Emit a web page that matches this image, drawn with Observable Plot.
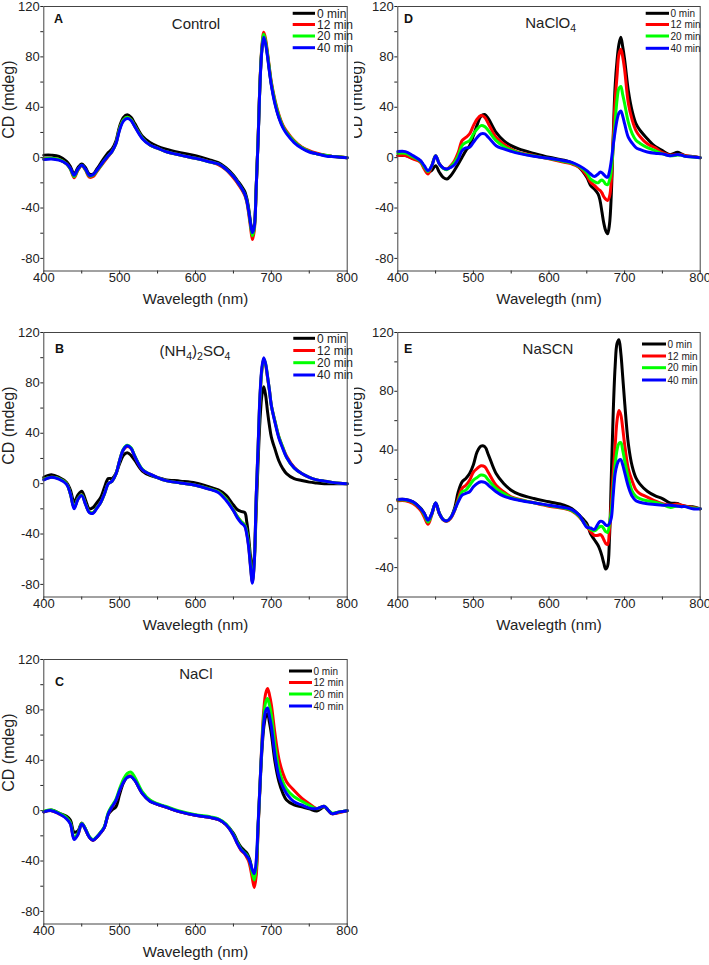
<!DOCTYPE html>
<html><head><meta charset="utf-8">
<script src="https://cdn.jsdelivr.net/npm/d3@7"></script>
<script src="https://cdn.jsdelivr.net/npm/@observablehq/plot@0.6"></script>
<style>
body{margin:0;background:#fff;}
#fig{position:relative;width:709px;height:965px;overflow:hidden;font-family:"Liberation Sans",Arial,sans-serif;}
.panel{position:absolute;}
#overlay{position:absolute;left:0;top:0;pointer-events:none;}
</style></head><body><div id="fig"></div><script>
// wavelengths (nm)
const W = [400,410,420,430,435,440,445,450,455,460,465,470,475,480,485,490,495,500,505,510,515,520,530,540,550,560,580,600,620,630,640,650,655,660,665,667.5,670,672.5,675,677.5,680,682.5,685,687.5,690,692.5,695,697.5,700,705,710,715,720,730,740,750,760,770,775,780,790,800];
const seriesNames = ["0 min","12 min","20 min","40 min"];
const seriesColors = ["#000000","#ff0000","#00ff00","#0000ff"];
const xMajor = [400,500,600,700,800];
const xMinor = [450,550,650,750];
const yMajor = [-80,-40,0,40,80,120];
const yMinor = [-60,-20,20,60,100];
const yMajorE = [-40,0,40,80,120];
const yMinorE = [-20,20,60,100];
const xTitle = "Wavelegth (nm)";
const yTitle = "CD (mdeg)";

// A: Control
const ctrl0 = [2,2,1,-3, -7,-13,-8,-5,-8,-13,-13,-9,-4.5, 0,4,7,13,25,32,34,32,27, 17,12,9,7,4,1.5, -2,-4,-8,-14,-18,-22,-27, -32,-40,-51,-59,-54,-24,14,59,86,97,91,81,69,58, 43,32,25,20,13,8, 5,3,2,1.5,1,0.5,0];
const ctrl12 = [-1,-0.5,-1.5,-5, -9,-16,-10,-6.5,-10,-15.5,-15,-11,-7, -3,1,5,11,23,30,32,30,25, 15.5,10,7.5,5,2,-0.5, -3.5,-5.5,-9.5,-16,-20,-24.5,-30, -35,-44,-55,-65,-58,-25,14,60,88,99.5,94,83,71,60, 45,34,26,21,13.5,8.5, 5.5,3.5,2,1.5,1,0.5,0];
const ctrl20 = [-1,-0.5,-1.5,-5, -9,-15,-9.5,-6,-9.5,-14.5,-14,-10.5,-6.5, -2,1.5,5,11,23,30,32,30,25, 15.5,10,7.5,5,2,-0.5, -3.5,-5,-9,-15,-19,-23.5,-29, -34,-42,-53,-62,-56,-24,14,59,87,98,92,82,70,59, 44,33,25,20,13,8, 5,3,2,1.5,1,0.5,0];
const ctrl40 = [-1.5,-1,-2,-5, -8.5,-14,-9,-6,-9,-14,-13.5,-10,-6, -2,1.5,5,11,22,29,31,29.5,24.5, 15,10,7.5,5,2,-0.5, -3.5,-5,-9,-15,-19,-23.5,-29, -34,-42,-52,-59.5,-55,-24,13,58,85,95.5,90,80,68,57.5, 42,31.5,24,19,12,7.5, 4.5,3,1.5,1,1,0.3,0];

// B: (NH4)2SO4
const amm0 = [5,7,5,1, -5,-14.5,-9,-6,-13,-20,-19,-15,-11, -3,4,4,8,16,22.5,24.5,22.5,18.5, 10,6.5,4.8,3.2,2,0.5, -3,-5,-9,-17,-20.5,-22,-23, -30,-42,-58,-69.5,-58,-22,17,50,70,77,70,57,46,37, 27,18,12,8,4,2.5, 1.2,0.5,0,0,0,0,0];
const amm12 = [3.5,5,4,0, -8,-19,-12,-9,-16,-22.5,-23,-19,-15, -8,0,2,7.5,18.5,27,29.5,28,21.5, 11,7.5,4.8,2.6,0.5,-1.3, -4.5,-6.5,-12,-21,-26,-30,-33, -39,-49,-65,-78,-62,-12,28,68,90,99,94,84,74,62, 49,37,29,22,13,8, 5,3,2,1.5,1,0.3,0];
const amm20 = [3.5,5,4,0, -8,-19,-12,-9,-16,-22.5,-23,-19,-15, -8,0,2,7.5,18.5,27.5,30.5,28.5,22, 11.5,7.5,4.8,2.6,0.5,-1.3, -4.5,-6.5,-12,-21,-26,-30,-33, -38,-48,-64,-77,-62,-12,28,68,90,99,95,85,74,62, 49,37,29,21,12.5,8, 5,3,2,1.5,1,0.3,0];
const amm40 = [3,5,3.5,-0.5, -8,-20,-12.5,-9.5,-16.5,-23,-23.5,-19.5,-15, -8,0,2,7.5,18.5,27,30,28,21.5, 11,7.5,4.8,2.6,0.5,-1.3, -4.8,-7,-13,-21.5,-27,-31,-34, -40,-50,-66,-79,-63,-10,29,70,92,100,95,85,74,62, 48,36,28,21,12.5,8, 5,3,2,1.5,1,0.3,0];

// C: NaCl
const nacl0 = [-1,0.5,-2,-4.5, -7.5,-17,-16,-10,-15,-21,-23.5,-21,-17.5, -13,-3,0.5,3,13,22,26.5,27,24, 13.5,7.5,5,3,-1,-3.7, -5.5,-7,-11,-18,-24,-29,-32, -33.5,-36.5,-41,-50,-57,-48,-14,18,47,66,74.5,77,70,61, 38,23,14,8.5,4.5,3, 1.5,-0.3,3,0,-2.4,-1,0];
const nacl12 = [-1,0,-2.5,-6, -10,-22,-19,-10,-15,-21,-23.5,-21,-17.5, -13,-2.5,3,8,16,23,27,27.5,24.5, 14,8,5,3,-1,-3.7, -5.5,-7,-11,-19.5,-26,-31.5,-34.5, -37,-40,-46,-54,-61,-52,-14,20,54,80,93,97,92,84, 60,41,30,23,16,10, 5.5,1.6,3.4,0.3,-2.4,-1.5,0];
const nacl20 = [-0.5,0.5,-2,-5.5, -9.5,-21,-18,-10,-14.5,-20.5,-23,-20.5,-17, -12.5,-1.5,4,9,17.5,25,29.5,30.5,26.5, 15,8.5,5.5,3.5,-0.5,-3.2, -5,-6.5,-10.5,-19,-25,-30.5,-33.5, -35,-38,-42,-50,-55,-45,-12,20,52,75,86,89,84,76, 51,33,23,17,11,7.5, 4.2,1.6,3.4,0.5,-2,-1,0];
const nacl40 = [-1,0,-2.5,-6.5, -10.5,-23,-19,-10.5,-15,-21,-23.5,-21,-17.5, -13,-2.5,3,8,16,22.5,26.5,27,24, 13.5,7.5,5,3,-1,-3.7, -5.5,-7,-11,-19.5,-26,-31,-34, -36,-38,-42,-47,-50,-40,-11,20,50,70,79,81.5,75,67, 43,27,19,13.5,7,4.5, 2,1.6,3.4,0.3,-2.4,-1,0];

// D: NaClO4
const clo0 = [1.6,1.6,-0.5,-2.5, -8,-11.6,-10,-6.4,-11.6,-15.6,-17,-14.3,-10, -5,0.3,5.6,9.5,17.5,26,33,34.2,30.7, 20,13.5,9.5,6.9,3.4,0.3, -2,-4,-7.7,-15.6,-22,-25,-29, -34,-43,-52,-58,-60.5,-53,-28,18,57,77,90,95.5,88,78, 53,37,27,22,15,9, 5.6,2.4,4.2,3,1.6,1,0];
const clo12 = [1.6,1.6,-1,-3.7, -9,-13,-6.4,1.6,-5,-8.2,-9,-6.4,-2.4, 4.2,13.5,16,18.8,25.4,30.7,33.4,32,26.8, 16,10.8,6.9,4.2,1.6,-1, -3.7,-5,-7.7,-14.3,-19.6,-22,-25, -26,-28,-31,-33,-34,-31,-18,15,45,65,82,86,80,70, 43,30,21.5,17,11,8, 4,2,2.5,2.5,1.5,1,0];
const clo20 = [3.4,3.4,0.5,-3, -7.5,-11,-6.4,1.6,-5,-8.5,-9.5,-7,-3.7, 1.6,9.5,12,13.5,18.8,22.8,25.4,24.6,21.4, 13.5,9,6,3.8,1.3,-0.7, -3,-4.4,-7,-12,-17,-19,-20, -18.5,-17.7,-19,-21,-21.5,-18,-10,10,28,46,55,56.5,50,43, 28,19,13.8,11.5,8,5.6, 3,1.5,2,2,1,0.5,0];
const clo40 = [4.8,4.8,1.6,-2.4, -6.4,-10.3,-6.4,1.6,-5,-8.2,-9,-7.7,-5.7, -1,5.6,7.7,8.2,12.2,16,18.8,18.8,16, 9.5,6.9,5,3.4,1.1,-0.5, -2.4,-3.7,-6.4,-10.3,-13,-15,-13, -11.5,-12,-13.5,-15,-15.6,-11,-2,10,21,30,35.5,37,33,27, 16,11.5,8,6.5,4.5,3.5, 3,1.5,2.5,2,1,0.5,0];

// E: NaSCN
const scn0 = [6.4,6.4,4.8,0.5, -3,-8,-3,4,-3,-7.3,-8.2,-6,0.2, 11.6,18.4,20.7,24,30,38.9,42.7,42.3,36.6, 24,17.3,12.7,10,7,4.8, 2.5,0.2,-4.3,-10,-17,-21,-25, -28,-32,-37,-41,-39,-20,23,66.5,97,112.5,115,106,90,73, 44,29,21,17,12,9, 7,4,3.6,2.5,1.8,1.4,0];
const scn12 = [5.5,5.5,3.6,-1, -5.5,-10.5,-4,3.6,-3.5,-7.5,-8.5,-6.5,-1.5, 7,13.9,16,19.5,25,27.5,29.3,28.6,24.5, 16,11.6,8.2,6.6,4.1,1.8, 0.2,-1.4,-5.5,-12,-15.5,-18,-18, -17.5,-18.5,-21,-23.5,-24.3,-14,5,25,43,60,67,64,55,44, 27,19,13,10.5,8,5.5, 3.5,2.5,3.2,2.5,2,1,0];
const scn20 = [6,6,4.5,0, -4,-9,-3.5,4,-3.2,-7.3,-8.2,-6,-1, 5.5,11.6,12.7,16,19.5,21.4,23,22.5,19.5, 13.9,10.5,7.6,6.2,4.1,2.2, 0.5,-1,-5,-12,-14,-15,-13, -12,-12,-13.5,-15.5,-16,-10,-1,15,30,40,44.5,45,40,33, 21,12,8.5,7,5.5,4.5, 3,1,2,1.5,1.5,0.5,0];
const scn40 = [6.4,6.4,4.8,0.2, -3.2,-7.7,-3.2,4.1,-3.2,-7.3,-8.2,-6,-1, 4.8,9.3,10.5,11.6,15,17.3,18.4,18,16, 11.6,8.6,7,5.9,4.1,2.5, 0.9,-0.5,-4.3,-12.5,-13,-14,-10, -8.5,-8.5,-9.5,-11,-11.4,-10,-6,10,24,30,33,33.5,30,25, 15,8.5,5.5,4.5,3.5,3, 2.5,2.5,1.8,1.5,1.5,0,0];

const FONT = '"Liberation Sans", Arial, sans-serif';

const panels = [
  {letter:"A", series:[ctrl0,ctrl12,ctrl20,ctrl40], yDomain:[-90,120], yMaj:yMajor, yMin:yMinor, left:0, top:0, col:0,
   title:[["Control",0]], tx:196, ty:29.3, lx:54, ly:23.3,
   leg:{x1:292.7,x2:315,tx:317,ys:[13.3,24.5,36,47.7],fs:12}},
  {letter:"B", series:[amm0,amm12,amm20,amm40], yDomain:[-90,120], yMaj:yMajor, yMin:yMinor, left:0, top:326, col:0,
   title:[["(NH",0],["4",1],[")",0],["2",1],["SO",0],["4",1]], tx:195, ty:356, lx:55, ly:352.7,
   leg:{x1:293.3,x2:315,tx:317,ys:[338.3,350.5,362.7,375],fs:12}},
  {letter:"C", series:[nacl0,nacl12,nacl20,nacl40], yDomain:[-90,120], yMaj:yMajor, yMin:yMinor, left:0, top:652.7, col:0,
   title:[["NaCl",0]], tx:195.8, ty:679.3, lx:55, ly:686,
   leg:{x1:289,x2:312,tx:313.5,ys:[671,682.5,694,706],fs:10}},
  {letter:"D", series:[clo0,clo12,clo20,clo40], yDomain:[-90,120], yMaj:yMajor, yMin:yMinor, left:354, top:0, col:1,
   title:[["NaClO",0],["4",1]], tx:550.7, ty:28.3, lx:404, ly:22.7,
   leg:{x1:645.7,x2:669,tx:670.5,ys:[13.3,24.5,36,48.3],fs:10}},
  {letter:"E", series:[scn0,scn12,scn20,scn40], yDomain:[-60,120], yMaj:yMajorE, yMin:yMinorE, left:354, top:326, col:1,
   title:[["NaSCN",0]], tx:548, ty:354.3, lx:404, ly:352.7,
   leg:{x1:642,x2:666,tx:667.5,ys:[344,356,367.7,380],fs:10}}
];

const fig = document.getElementById("fig");
const fmt = d => String(d);

for (const p of panels) {
  const rows = [];
  p.series.forEach((arr, k) => arr.forEach((v, i) => rows.push({w: W[i], v, s: seriesNames[k]})));
  const svg = Plot.plot({
    width: p.col === 0 ? 354 : 355, height: 320,
    marginLeft: 43.3, marginRight: p.col === 0 ? 7.3 : 9.3, marginTop: 6, marginBottom: 49.5,
    style: {background: "transparent", overflow: p.col === 0 ? "visible" : "hidden", fontFamily: FONT, fontSize: "13px", color: "#222"},
    x: {domain: [400, 800]},
    y: {domain: p.yDomain},
    color: {domain: seriesNames, range: seriesColors},
    marks: [
      Plot.axisX(xMinor, {tickSize: 3, tickFormat: () => "", label: null}),
      Plot.axisX(xMajor, {tickSize: 3, tickPadding: -1, tickFormat: fmt, label: null}),
      Plot.axisY(p.yMin, {tickSize: 3, tickFormat: () => "", label: null}),
      Plot.axisY(p.yMaj, {tickSize: 3, tickPadding: 1, tickFormat: fmt, label: null}),
      Plot.line(rows, {x: "w", y: "v", z: "s", stroke: "s", strokeWidth: 3, curve: "catmull-rom"}),
      Plot.frame({stroke: "#444", strokeWidth: 1}),
      Plot.text([xTitle], {text: d => d, frameAnchor: "bottom", dy: 33, fontSize: 15, fill: "#222"}),
      Plot.text([yTitle], {text: d => d, frameAnchor: "left", dx: p.col === 0 ? -35 : -41.3, rotate: -90, fontSize: 16, fill: "#222"})
    ]
  });
  svg.classList.add("panel");
  svg.style.left = p.left + "px";
  svg.style.top = p.top + "px";
  fig.appendChild(svg);
}

// overlay: panel letters, titles, legends
const ov = d3.create("svg").attr("id", "overlay").attr("width", 709).attr("height", 965)
  .style("font-family", FONT);
ov.append("defs").append("clipPath").attr("id", "clipL")
  .append("rect").attr("x", 0).attr("y", 0).attr("width", 354).attr("height", 965);

for (const p of panels) {
  ov.append("text").attr("x", p.lx).attr("y", p.ly).attr("font-size", 12.5).attr("font-weight", "bold")
    .attr("fill", "#111").text(p.letter);
  const t = ov.append("text").attr("x", p.tx).attr("y", p.ty).attr("font-size", 15)
    .attr("text-anchor", "middle").attr("fill", "#222");
  let shifted = false;
  for (const [s, sub] of p.title) {
    const ts = t.append("tspan").text(s);
    if (sub && !shifted) { ts.attr("dy", 4).attr("font-size", 10.5); shifted = true; }
    else if (sub) { ts.attr("font-size", 10.5); }
    else if (!sub && shifted) { ts.attr("dy", -4); shifted = false; }
  }
  const g = ov.append("g");
  if (p.col === 0) g.attr("clip-path", "url(#clipL)");
  const L = p.leg;
  seriesNames.forEach((name, k) => {
    g.append("line").attr("x1", L.x1).attr("x2", L.x2).attr("y1", L.ys[k]).attr("y2", L.ys[k])
      .attr("stroke", seriesColors[k]).attr("stroke-width", 3);
    g.append("text").attr("x", L.tx).attr("y", L.ys[k] + L.fs * 0.36).attr("font-size", L.fs)
      .attr("fill", "#222").text(name);
  });
}
fig.appendChild(ov.node());
</script></body></html>
